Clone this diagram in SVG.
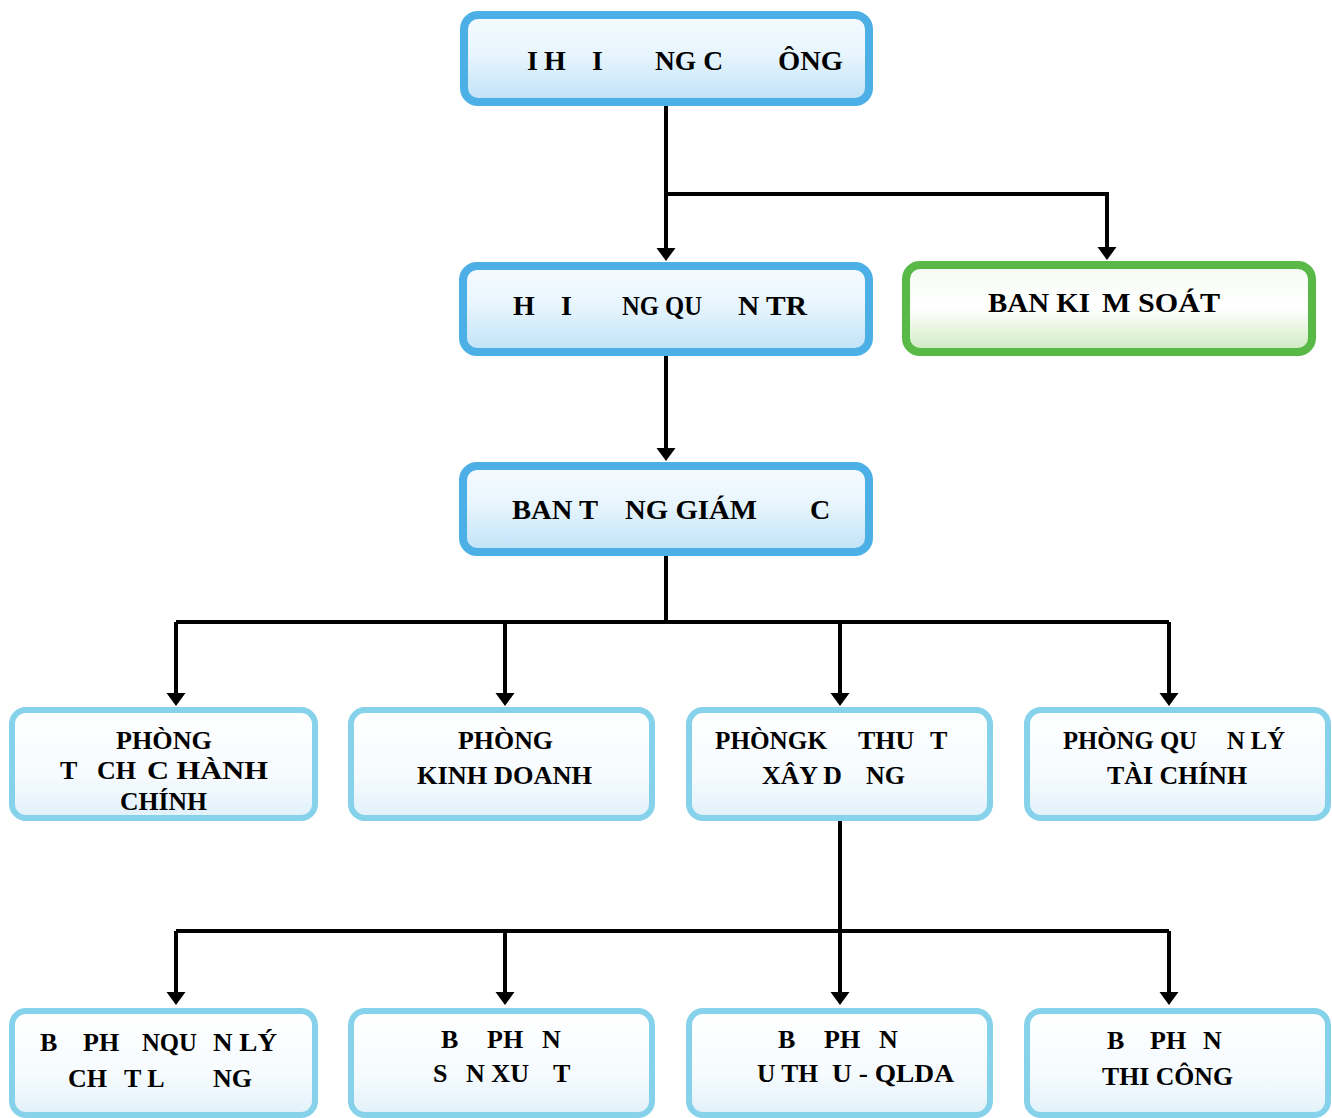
<svg xmlns="http://www.w3.org/2000/svg" width="1332" height="1118" viewBox="0 0 1332 1118">
<defs>
<linearGradient id="gBlue" x1="0" y1="0" x2="0" y2="1">
<stop offset="0" stop-color="#f6fbff"/>
<stop offset="0.45" stop-color="#e8f5fd"/>
<stop offset="1" stop-color="#bfe2f7"/>
</linearGradient>
<linearGradient id="gGreen" x1="0" y1="0" x2="0" y2="1">
<stop offset="0" stop-color="#f4fbf1"/>
<stop offset="0.5" stop-color="#ffffff"/>
<stop offset="1" stop-color="#cdeabf"/>
</linearGradient>
<linearGradient id="gLight" x1="0" y1="0" x2="0" y2="1">
<stop offset="0" stop-color="#ffffff"/>
<stop offset="0.6" stop-color="#f6fbfe"/>
<stop offset="1" stop-color="#e1f1fa"/>
</linearGradient>
<marker id="arr" viewBox="0 -10 14 20" refX="7" refY="0" markerWidth="14" markerHeight="20" markerUnits="userSpaceOnUse" orient="auto">
<path d="M0,-9.5 L13,0 L0,9.5 z" fill="#000"/>
</marker>
</defs>
<style>
.top{fill:url(#gBlue);stroke:#4cafe6;stroke-width:8}
.grn{fill:url(#gGreen);stroke:#58b947;stroke-width:8}
.low{fill:url(#gLight);stroke:#86d2ea;stroke-width:6}
.t1,.t2{font-family:'Liberation Serif','Times New Roman',Times,serif;font-weight:700;fill:#000}
.t1{font-size:28px}
.t2{font-size:26px}
.c{fill:none;stroke:#000;stroke-width:4}
.a{marker-end:url(#arr)}
</style>
<rect width="1332" height="1118" fill="#ffffff"/>

<g id="connectors">
<path class="c a" d="M666,106 V255"/>
<path class="c a" d="M666,194 H1107 V254"/>
<path class="c a" d="M666,356 V455"/>
<path class="c" d="M666,556 V622"/>
<path class="c" d="M176,622 H1169"/>
<path class="c a" d="M176,622 V700"/>
<path class="c a" d="M505,622 V700"/>
<path class="c a" d="M840,622 V700"/>
<path class="c a" d="M1169,622 V700"/>
<path class="c a" d="M840,821 V999"/>
<path class="c" d="M176,931 H1169"/>
<path class="c a" d="M176,931 V999"/>
<path class="c a" d="M505,931 V999"/>
<path class="c a" d="M1169,931 V999"/>
</g>

<g id="dai-hoi-co-dong">
<rect class="top" x="464" y="15" width="405" height="87" rx="14"/>
<text class="t1" y="70"><tspan x="527">I</tspan><tspan x="544">H</tspan><tspan x="592">I</tspan><tspan x="655" textLength="68" lengthAdjust="spacingAndGlyphs">NG C</tspan><tspan x="778" textLength="65" lengthAdjust="spacingAndGlyphs">ÔNG</tspan></text>
</g>

<g id="hoi-dong-quan-tri">
<rect class="top" x="463" y="266" width="406" height="86" rx="14"/>
<text class="t1" y="315"><tspan x="513">H</tspan><tspan x="561">I</tspan><tspan x="622" textLength="80" lengthAdjust="spacingAndGlyphs">NG QU</tspan><tspan x="738" textLength="69" lengthAdjust="spacingAndGlyphs">N TR</tspan></text>
</g>

<g id="ban-kiem-soat">
<rect class="grn" x="906" y="265" width="406" height="87" rx="14"/>
<text class="t1" y="312"><tspan x="988" textLength="102" lengthAdjust="spacingAndGlyphs">BAN KI</tspan><tspan x="1102" textLength="118" lengthAdjust="spacingAndGlyphs">M SOÁT</tspan></text>
</g>

<g id="ban-tong-giam-doc">
<rect class="top" x="463" y="466" width="406" height="86" rx="14"/>
<text class="t1" y="519"><tspan x="512" textLength="86" lengthAdjust="spacingAndGlyphs">BAN T</tspan><tspan x="625" textLength="132" lengthAdjust="spacingAndGlyphs">NG GIÁM</tspan><tspan x="810">C</tspan></text>
</g>

<g id="phong-tchc">
<rect class="low" x="12" y="710" width="303" height="108" rx="14"/>
<text class="t2" x="116" y="749" textLength="96" lengthAdjust="spacingAndGlyphs">PHÒNG</text>
<text class="t2" y="779"><tspan x="60">T</tspan><tspan x="97">CH</tspan><tspan x="147" textLength="121" lengthAdjust="spacingAndGlyphs">C HÀNH</tspan></text>
<text class="t2" x="120" y="810" textLength="87" lengthAdjust="spacingAndGlyphs">CHÍNH</text>
</g>

<g id="phong-kinh-doanh">
<rect class="low" x="351" y="710" width="301" height="108" rx="14"/>
<text class="t2" x="458" y="749" textLength="95" lengthAdjust="spacingAndGlyphs">PHÒNG</text>
<text class="t2" x="417" y="784" textLength="175" lengthAdjust="spacingAndGlyphs">KINH DOANH</text>
</g>

<g id="phong-ky-thuat">
<rect class="low" x="689" y="710" width="301" height="108" rx="14"/>
<text class="t2" y="749"><tspan x="715" textLength="112" lengthAdjust="spacingAndGlyphs">PHÒNGK</tspan><tspan x="858">THU</tspan><tspan x="930">T</tspan></text>
<text class="t2" y="784"><tspan x="762" textLength="80" lengthAdjust="spacingAndGlyphs">XÂY D</tspan><tspan x="866">NG</tspan></text>
</g>

<g id="phong-tai-chinh">
<rect class="low" x="1027" y="710" width="301" height="108" rx="14"/>
<text class="t2" y="749"><tspan x="1063" textLength="134" lengthAdjust="spacingAndGlyphs">PHÒNG QU</tspan><tspan x="1227" textLength="58" lengthAdjust="spacingAndGlyphs">N LÝ</tspan></text>
<text class="t2" x="1107" y="784" textLength="140" lengthAdjust="spacingAndGlyphs">TÀI CHÍNH</text>
</g>

<g id="bp-chat-luong">
<rect class="low" x="12" y="1011" width="303" height="104" rx="14"/>
<text class="t2" y="1051"><tspan x="40">B</tspan><tspan x="83">PH</tspan><tspan x="142" textLength="55" lengthAdjust="spacingAndGlyphs">NQU</tspan><tspan x="213" textLength="64" lengthAdjust="spacingAndGlyphs">N LÝ</tspan></text>
<text class="t2" y="1087"><tspan x="68">CH</tspan><tspan x="124">T L</tspan><tspan x="213">NG</tspan></text>
</g>

<g id="bp-san-xuat">
<rect class="low" x="351" y="1011" width="301" height="104" rx="14"/>
<text class="t2" y="1048"><tspan x="441">B</tspan><tspan x="487">PH</tspan><tspan x="542">N</tspan></text>
<text class="t2" y="1082"><tspan x="433">S</tspan><tspan x="466" textLength="63" lengthAdjust="spacingAndGlyphs">N XU</tspan><tspan x="553">T</tspan></text>
</g>

<g id="bp-dau-thau">
<rect class="low" x="689" y="1011" width="301" height="104" rx="14"/>
<text class="t2" y="1048"><tspan x="778">B</tspan><tspan x="824">PH</tspan><tspan x="879">N</tspan></text>
<text class="t2" y="1082"><tspan x="757" textLength="61" lengthAdjust="spacingAndGlyphs">U TH</tspan><tspan x="832" textLength="122" lengthAdjust="spacingAndGlyphs">U - QLDA</tspan></text>
</g>

<g id="bp-thi-cong">
<rect class="low" x="1027" y="1011" width="301" height="104" rx="14"/>
<text class="t2" y="1049"><tspan x="1107">B</tspan><tspan x="1150">PH</tspan><tspan x="1203">N</tspan></text>
<text class="t2" x="1102" y="1085" textLength="131" lengthAdjust="spacingAndGlyphs">THI CÔNG</text>
</g>
</svg>
